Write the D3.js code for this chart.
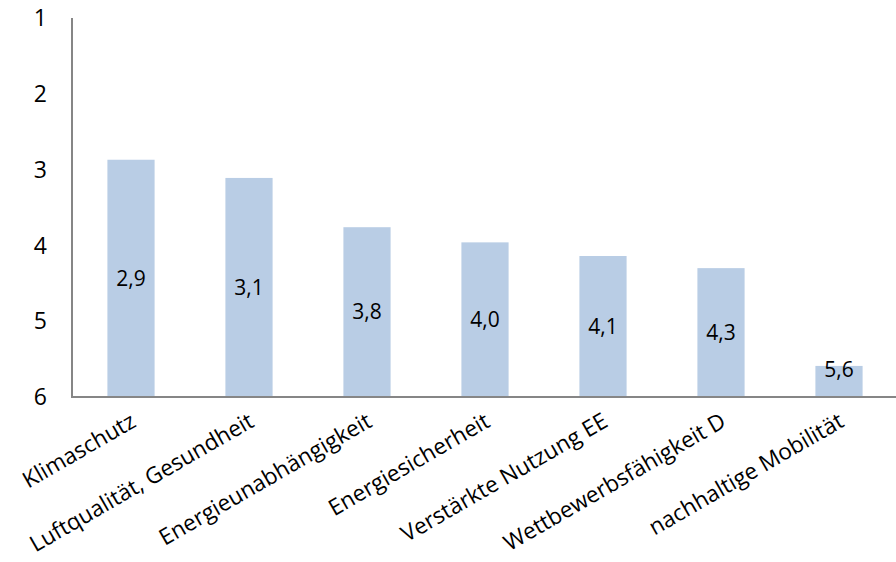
<!DOCTYPE html>
<html>
<head>
<meta charset="utf-8">
<script src="https://cdn.jsdelivr.net/npm/d3@7"></script>
<style>
  body { margin: 0; background: #fff; }
  svg { display: block; font-family: "Open Sans", sans-serif; }
  .axis { stroke: #868686; stroke-width: 2; fill: none; }
  .bar { fill: #b9cde5; }
  .ticklabel { font-size: 23px; fill: #000; }
  .barlabel { font-size: 21px; fill: #000; }
  .catlabel { font-size: 22.5px; fill: #000; }
</style>
</head>
<body>
<div id="chart"></div>
<script>
// categories and values (rank average, lower = better)
const categories = [
    "Klimaschutz",
    "Luftqualität, Gesundheit",
    "Energieunabhängigkeit",
    "Energiesicherheit",
    "Verstärkte Nutzung EE",
    "Wettbewerbsfähigkeit D",
    "nachhaltige Mobilität"
];
const values = [2.87, 3.11, 3.76, 3.96, 4.14, 4.30, 5.59];
const yTicks = [1, 2, 3, 4, 5, 6];

function make_chart() {
    var width = 896;
    var height = 562;
    var left = 72, right = 898, top = 18, bottom = 397;

    var svg = d3.select("#chart").append("svg")
        .attr("width", width)
        .attr("height", height);

    var xScale = d3.scaleBand()
        .domain(categories)
        .range([left, right])
        .paddingInner(0.6)
        .paddingOuter(0.3);

    // reversed axis: 1 at the top, bars grow up from 6
    var yScale = d3.scaleLinear()
        .domain([1, 6])
        .range([top, bottom]);

    var fmt = v => d3.format(".1f")(v).replace(".", ",");

    svg.selectAll("rect.bar")
        .data(values)
        .enter().append("rect")
        .attr("class", "bar")
        .attr("x", (d, i) => xScale(categories[i]))
        .attr("y", d => yScale(d))
        .attr("width", xScale.bandwidth())
        .attr("height", d => yScale(6) - yScale(d));

    svg.selectAll("text.barlabel")
        .data(values)
        .enter().append("text")
        .attr("class", "barlabel")
        .attr("x", (d, i) => xScale(categories[i]) + xScale.bandwidth()/2)
        .attr("y", d => Math.min((yScale(d) + yScale(6))/2, yScale(6) - 27))
        .attr("dy", "0.35em")
        .attr("text-anchor", "middle")
        .text(d => fmt(d));

    // axis lines
    svg.append("line")
        .attr("class", "axis")
        .attr("x1", left).attr("y1", top)
        .attr("x2", left).attr("y2", yScale(6));
    svg.append("line")
        .attr("class", "axis")
        .attr("x1", left - 1).attr("y1", yScale(6))
        .attr("x2", width).attr("y2", yScale(6));

    svg.selectAll("text.ticklabel")
        .data(yTicks)
        .enter().append("text")
        .attr("class", "ticklabel")
        .attr("x", 47)
        .attr("y", d => yScale(d))
        .attr("dy", "0.36em")
        .attr("text-anchor", "end")
        .text(d => d);

    svg.selectAll("text.catlabel")
        .data(categories)
        .enter().append("text")
        .attr("class", "catlabel")
        .attr("text-anchor", "end")
        .attr("transform", d => "translate(" + (xScale(d) + xScale.bandwidth()/2 - 2) + "," + (yScale(6) + 14) + ") rotate(-30)")
        .attr("dy", "0.75em")
        .text(d => d);
}

make_chart();
</script>
</body>
</html>
